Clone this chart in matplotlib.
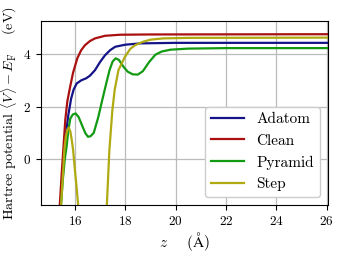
import numpy as np
import matplotlib
matplotlib.use("Agg")
import matplotlib.pyplot as plt

plt.rcParams['font.family'] = ['cmr10', 'DejaVu Serif']
plt.rcParams['mathtext.fontset'] = 'cm'
plt.rcParams['axes.formatter.use_mathtext'] = True

# clean surface
z_clean = [15.30, 15.40, 15.48, 15.55, 15.62, 15.70, 15.80, 15.93, 16.10, 16.25,
           16.40, 16.60, 16.80, 17.20, 17.80, 19.00, 26.50]
v_clean = [-3.0, -1.75, -0.5, 0.5, 1.5, 2.2, 2.7, 3.3, 3.85, 4.15,
           4.34, 4.50, 4.60, 4.70, 4.74, 4.75, 4.76]

# adatom
z_adatom = [15.35, 15.43, 15.52, 15.62, 15.74, 15.85, 15.95, 16.07, 16.25, 16.45,
            16.60, 16.80, 17.00, 17.20, 17.40, 17.60, 18.00, 18.60, 20.00, 26.50]
v_adatom = [-3.0, -1.75, -0.3, 0.8, 1.68, 2.3, 2.65, 2.88, 3.00, 3.08,
            3.18, 3.39, 3.70, 3.96, 4.15, 4.28, 4.36, 4.41, 4.43, 4.43]

# pyramid
z_pyramid = [15.38, 15.45, 15.52, 15.60, 15.67, 15.74, 15.82, 15.92, 16.03, 16.15,
             16.30, 16.42, 16.52, 16.62, 16.75, 16.93, 17.10, 17.25, 17.38, 17.50,
             17.62, 17.75, 17.93, 18.10, 18.30, 18.50, 18.70, 18.95, 19.20,
             19.45, 19.80, 20.50, 22.00, 26.50]
v_pyramid = [-3.0, -1.75, -0.8, 0.0, 0.47, 1.1, 1.55, 1.70, 1.74, 1.60,
             1.25, 0.98, 0.85, 0.87, 1.00, 1.60, 2.30, 2.90, 3.40, 3.72,
             3.84, 3.78, 3.52, 3.33, 3.23, 3.22, 3.35, 3.70, 3.98,
             4.10, 4.17, 4.21, 4.23, 4.23]

# step
z_step = [15.38, 15.45, 15.52, 15.58, 15.64, 15.70, 15.76, 15.82, 15.88, 15.93,
          16.00, 16.07, 16.13, 16.20, 16.60, 17.00, 17.20, 17.27, 17.37, 17.49,
          17.58, 17.73, 17.99, 18.20, 18.39, 18.70, 19.00, 19.50, 20.50, 26.50]
v_step = [-3.0, -1.75, -0.7, 0.34, 0.85, 1.12, 1.20, 1.05, 0.70, 0.34,
          -0.4, -1.1, -1.75, -2.5, -4.0, -3.0, -2.2, -1.75, 0.34, 1.87,
          2.63, 3.39, 3.90, 4.20, 4.34, 4.47, 4.55, 4.60, 4.62, 4.63]

fig = plt.figure(figsize=(3.38, 2.54), dpi=100)
ax = fig.add_axes([0.121, 0.193, 0.849, 0.724])

lw = 1.6
ax.plot(z_adatom, v_adatom, color='#141488', lw=lw, label='Adatom')
ax.plot(z_clean, v_clean, color='#aa1010', lw=lw, label='Clean')
ax.plot(z_pyramid, v_pyramid, color='#139a13', lw=lw, label='Pyramid')
ax.plot(z_step, v_step, color='#b0aa12', lw=lw, label='Step')

ax.set_xlim(14.65, 26.05)
ax.set_ylim(-1.75, 5.26)
ax.set_xticks([16, 18, 20, 22, 24, 26])
ax.set_yticks([0, 2, 4])
ax.grid(color='#bbbbbb', lw=0.9)
ax.set_axisbelow(True)
ax.tick_params(labelsize=9.5, direction='out', length=3.5)

ax.set_xlabel(r'$z$    $(\mathrm{\AA})$', fontsize=11, labelpad=2)
ax.set_ylabel(r'Hartree potential $\langle V\rangle - E_\mathrm{F}$    (eV)', fontsize=10.2)
ax.yaxis.set_label_coords(-0.075, 0.5)

leg = ax.legend(loc='lower right', fontsize=11, handlelength=2.2, framealpha=1,
                edgecolor='#cccccc', borderaxespad=0.5)

fig.savefig('out.png', dpi=100)
